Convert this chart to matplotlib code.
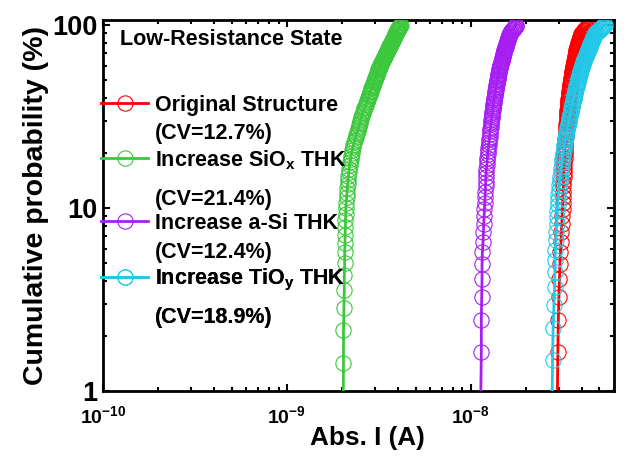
import numpy as np
import matplotlib
matplotlib.use('Agg')
import matplotlib.pyplot as plt
from matplotlib.lines import Line2D
from matplotlib.ticker import FixedLocator, FixedFormatter, LogLocator, NullFormatter

plt.rcParams['font.family'] = ['Liberation Sans', 'DejaVu Sans']
plt.rcParams['font.weight'] = 'bold'
plt.rcParams['mathtext.fontset'] = 'custom'
plt.rcParams['mathtext.rm'] = 'Liberation Sans:bold'
plt.rcParams['mathtext.bf'] = 'Liberation Sans:bold'
plt.rcParams['mathtext.it'] = 'Liberation Sans:bold:italic'

# ---------------- data (sorted read currents, nA) ----------------
i_original_nA = [29.5, 29.7, 29.9, 30.1, 30.3, 30.5, 30.7, 30.9, 31.05, 31.2, 31.35, 31.5, 31.6,
    31.67, 31.74, 31.81, 31.88, 31.95, 32.02, 32.1, 32.2,
    32.25, 32.31, 32.37, 32.43, 32.49, 32.55, 32.61, 32.67, 32.73, 32.8,
    32.86, 32.92, 32.98, 33.05, 33.11, 33.17, 33.23, 33.30, 33.36, 33.42, 33.48, 33.55, 33.61, 33.67, 33.73, 33.8,
    33.89, 33.98, 34.06, 34.15, 34.24, 34.33, 34.42, 34.50, 34.59, 34.68, 34.77, 34.86, 34.94, 35.03, 35.12,
    35.21, 35.30, 35.38, 35.47, 35.56, 35.65, 35.74, 35.82, 35.91, 36.0,
    36.09, 36.18, 36.26, 36.35, 36.44, 36.53, 36.62, 36.71, 36.79, 36.88, 36.97, 37.06, 37.15, 37.24, 37.32, 37.41, 37.5,
    37.62, 37.74, 37.86, 37.98, 38.10, 38.21, 38.33, 38.45, 38.57, 38.69, 38.81, 38.93, 39.05, 39.17, 39.29,
    39.40, 39.52, 39.64, 39.76, 39.88, 40.0,
    40.33, 40.67, 41.0, 41.33, 41.67, 42.0, 42.33, 42.67, 43.0, 43.33, 43.67, 44.0]

i_siox_nA = [2.02, 2.03, 2.03, 2.04, 2.05, 2.05, 2.06, 2.06, 2.07, 2.07,
    2.08, 2.08, 2.09, 2.09, 2.10, 2.11, 2.12, 2.13, 2.14, 2.15,
    2.16, 2.17, 2.18, 2.19, 2.21, 2.22, 2.23, 2.25, 2.26, 2.28,
    2.30, 2.32, 2.34, 2.36, 2.38, 2.40, 2.42, 2.44, 2.46, 2.48,
    2.49, 2.50, 2.52, 2.54, 2.56, 2.58, 2.60, 2.62, 2.64, 2.66, 2.68, 2.70, 2.72, 2.74, 2.76,
    2.77, 2.79, 2.80, 2.82, 2.84, 2.85, 2.87, 2.88, 2.90, 2.92, 2.93, 2.95, 2.96, 2.98, 3.00,
    3.01, 3.03, 3.04, 3.06, 3.07, 3.09, 3.10, 3.12, 3.13, 3.14, 3.16, 3.17, 3.19, 3.20,
    3.22, 3.24, 3.26, 3.28, 3.29, 3.31, 3.33, 3.35, 3.37, 3.38, 3.40, 3.42, 3.44, 3.46, 3.47, 3.49, 3.51, 3.53,
    3.55, 3.56, 3.58, 3.59, 3.61, 3.63, 3.64, 3.66, 3.67, 3.69, 3.71, 3.72, 3.74, 3.75, 3.77, 3.78, 3.80,
    3.82, 3.83, 3.85, 3.86, 3.88, 3.89, 3.91, 3.93, 3.94, 3.96, 3.97, 3.99, 4.01, 4.02, 4.04, 4.06, 4.07,
    4.09, 4.11, 4.13, 4.15]

i_asi_nA = [11.3, 11.4, 11.4, 11.45, 11.5, 11.5, 11.55, 11.65, 11.7, 11.75, 11.8, 11.85, 11.9, 11.95,
    11.98, 12.01, 12.04, 12.07, 12.11, 12.15,
    12.22, 12.26, 12.31, 12.36, 12.40, 12.45, 12.49, 12.54, 12.59, 12.63, 12.68,
    12.72, 12.76, 12.80, 12.84, 12.88, 12.92, 12.96, 13.00, 13.05, 13.09, 13.13, 13.17, 13.21, 13.25, 13.29, 13.33,
    13.37, 13.41, 13.46, 13.50, 13.54, 13.58, 13.63, 13.67, 13.71, 13.75, 13.79, 13.84, 13.88, 13.92, 13.96,
    14.00, 14.05, 14.09, 14.13, 14.17, 14.21, 14.26, 14.30, 14.34, 14.38,
    14.43, 14.48, 14.53, 14.58, 14.63, 14.68, 14.73, 14.78, 14.83, 14.88, 14.93, 14.98, 15.03, 15.08, 15.13,
    15.18, 15.23, 15.28, 15.33, 15.38, 15.43, 15.48, 15.53, 15.58, 15.63, 15.68, 15.73, 15.78, 15.83, 15.88,
    15.93, 15.98, 16.03, 16.08, 16.13, 16.18, 16.23, 16.30,
    16.40, 16.51, 16.62, 16.73, 16.84, 16.95, 17.06, 17.17, 17.28, 17.39, 17.50, 17.60]

i_tioy_nA = [27.6, 27.8, 28.0, 28.3, 28.5, 28.6, 28.7, 28.8, 29.0, 29.1,
    29.25, 29.4, 29.5, 29.6, 29.7,
    29.88, 30.05, 30.23, 30.4, 30.58, 30.75, 30.93, 31.1,
    31.27, 31.43, 31.6, 31.77, 31.93, 32.1, 32.27, 32.43, 32.6, 32.77, 32.93, 33.1,
    33.27, 33.44, 33.61, 33.78, 33.95, 34.12, 34.29, 34.46, 34.64, 34.81, 34.98, 35.15, 35.32, 35.49, 35.66, 35.83, 36.0,
    36.14, 36.29, 36.43, 36.57, 36.71, 36.86, 37.0, 37.14, 37.29, 37.43, 37.57, 37.71, 37.86, 38.0,
    38.14, 38.29, 38.43, 38.57, 38.71, 38.86, 39.0, 39.14, 39.29, 39.43, 39.57, 39.71, 39.86, 40.0,
    40.18, 40.37, 40.55, 40.74, 40.92, 41.11, 41.29, 41.47, 41.66, 41.84, 42.03, 42.21, 42.39, 42.58, 42.76,
    42.95, 43.13, 43.32, 43.5,
    43.67, 43.84, 44.0, 44.17, 44.34, 44.51, 44.68, 44.85, 45.01, 45.18, 45.35, 45.52, 45.69, 45.86, 46.02,
    46.19, 46.36, 46.53, 46.7, 46.86, 47.03, 47.2,
    47.65, 48.1, 48.55, 49.0, 49.45, 49.9, 50.35, 50.8, 51.25, 51.7, 52.15, 52.6, 53.05, 53.5]

series_names = ['Original Structure', r'Increase SiO$_{\mathbf{x}}$ THK',
                'Increase a-Si THK', r'Increase TiO$_{\mathbf{y}}$ THK']
cv_labels = ['(CV=12.7%)', '(CV=21.4%)', '(CV=12.4%)', '(CV=18.9%)']
series_data = [i_original_nA, i_siox_nA, i_asi_nA, i_tioy_nA]
colors = ['#FF0000', '#3CC83C', '#A61EF2', '#22C8E8']

x_tick_vals = [1e-10, 1e-9, 1e-8]
x_tick_labels = [r'$\mathbf{10^{-10}}$', r'$\mathbf{10^{-9}}$', r'$\mathbf{10^{-8}}$']
y_tick_vals = [1, 10, 100]
y_tick_labels = ['1', '10', '100']

# ---------------- figure ----------------
fig = plt.figure(figsize=(6.3, 4.59), dpi=100)
ax = fig.add_axes([0.1635, 0.1481, 0.8111, 0.8083])

handles = []
for k, (vals, col) in enumerate(zip(series_data, colors)):
    cur = np.sort(np.asarray(vals)) * 1e-9
    n = len(cur)
    prob = 100.0 * np.arange(1, n + 1) / n
    ax.plot(cur, prob, '-', color=col, lw=2, marker='o', ms=11,
            mfc='none', mec=col, mew=0.8, zorder=2 + k, clip_on=True)
    handles.append(Line2D([], [], color=col, lw=2, marker='o', ms=11,
                          mfc='none', mec=col, mew=0.8))

ax.set_xscale('log')
ax.set_yscale('log')
ax.set_xlim(1e-10, 6e-8)
ax.set_ylim(1, 106.5)

ax.xaxis.set_major_locator(FixedLocator(x_tick_vals))
ax.xaxis.set_major_formatter(FixedFormatter(x_tick_labels))
ax.xaxis.set_minor_locator(LogLocator(base=10, subs=np.arange(2, 10)))
ax.xaxis.set_minor_formatter(NullFormatter())
ax.yaxis.set_major_locator(FixedLocator(y_tick_vals))
ax.yaxis.set_major_formatter(FixedFormatter(y_tick_labels))
ax.yaxis.set_minor_locator(LogLocator(base=10, subs=np.arange(2, 10)))
ax.yaxis.set_minor_formatter(NullFormatter())

ax.tick_params(which='both', direction='in', top=True, right=True, width=1.5)
ax.tick_params(which='major', length=5)
ax.tick_params(which='minor', length=3)
ax.tick_params(axis='x', which='major', labelsize=14, pad=10)
ax.tick_params(axis='y', which='major', labelsize=19.5, pad=4)
for sp in ax.spines.values():
    sp.set_linewidth(2)

ax.set_xlabel('Abs. I (A)', fontsize=18.8, fontweight='bold')
ax.set_ylabel('Cumulative probability (%)', fontsize=20.5, fontweight='bold')
ax.xaxis.set_label_coords(0.517, -0.095)
ax.yaxis.set_label_coords(-0.106, 0.5)

ax.text(0.033, 0.948, 'Low-Resistance State', transform=ax.transAxes,
        fontsize=15.5, fontweight='bold', ha='left', va='center')

# legend: one small two-row legend per series (name row + CV row)
blank = Line2D([], [], linestyle='none', marker='none')
leg_tops = [0.798, 0.655, 0.481, 0.334]
leg_spacing = [0.32, 0.8, 0.38, 0.62]
for h, name, cv, top, sp in zip(handles, series_names, cv_labels, leg_tops, leg_spacing):
    leg = ax.legend([h, blank], [name, cv], loc='upper left', bbox_to_anchor=(-0.004, top),
                    frameon=False, fontsize=15.5, handlelength=2.2, handletextpad=0.3,
                    labelspacing=sp, borderpad=0.0, borderaxespad=0.0, numpoints=1)
    for t in leg.get_texts():
        t.set_fontweight('bold')
    ax.add_artist(leg)

fig.savefig('out.png', dpi=100)
